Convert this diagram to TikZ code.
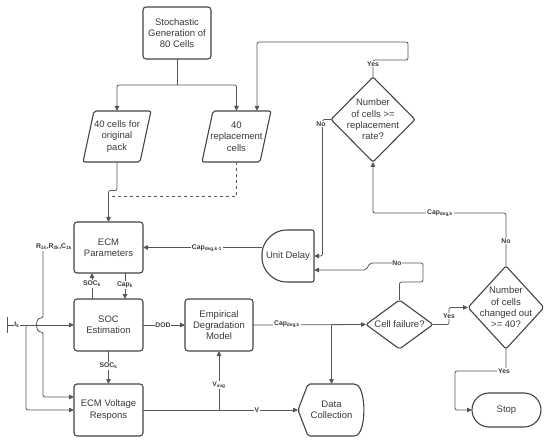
\documentclass[tikz,border=0pt]{standalone}
\usepackage{fontspec}
\setmainfont{Liberation Sans}
\usetikzlibrary{arrows.meta,calc,shapes.geometric}
\definecolor{lc}{HTML}{555555}
\definecolor{bc}{HTML}{444444}
\definecolor{tc}{HTML}{3A3A3A}
\begin{document}
\begin{tikzpicture}[x=1pt,y=-1pt,
 txt/.style={font=\fontsize{9.5}{11.3}\selectfont, align=center, inner sep=0, outer sep=0, text=tc},
 box/.style={txt, draw=bc, line width=1.1pt, rounded corners=3pt, minimum width=69, minimum height=52},
 shp/.style={draw=bc, line width=1.1pt, rounded corners=2pt},
 dia/.style={diamond, draw=bc, line width=1.1pt, inner sep=0, outer sep=0, rounded corners=2pt},
 lab/.style={font=\bfseries\fontsize{6.8}{7}\selectfont, fill=white, inner sep=0.8pt, text=tc},
 con/.style={draw=lc, line width=0.8pt, rounded corners=2pt},
 arr/.style={con, -{Triangle[length=5pt,width=4.5pt]}},
]
\useasboundingbox (0,0) rectangle (550,444);

% nodes
\node[box, minimum width=68] (stoch) at (177,33) {Stochastic\\Generation of\\80 Cells};
\node[txt, minimum width=68, minimum height=51] (orig) at (117,136.5) {40 cells for\\original\\pack};
\node[txt, minimum width=69, minimum height=51] (repl) at (236.5,136.5) {40\\replacement\\cells};
\node[box, minimum height=51] (ecmp) at (108.5,247.5) {ECM\\Parameters};
\node[box] (soc) at (108.5,325) {SOC\\Estimation};
\node[box] (ecmv) at (108.5,410) {ECM Voltage\\Respons};
\node[box, minimum width=68] (emp) at (219,325) {Empirical\\Degradation\\Model};
\node[txt, minimum width=52, minimum height=52] (ud) at (288,256) {Unit Delay};
\node[txt, minimum width=67, minimum height=52] (dc) at (331.5,410) {Data\\Collection};
\node[box, minimum height=34, rounded corners=17pt] (stop) at (506.5,410) {Stop};
\node[dia, minimum width=84, minimum height=85] (d1) at (373,119.5) {};
\node[txt] at (d1) {Number\\of cells >=\\replacement\\rate?};
\node[dia, minimum width=67, minimum height=49] (cf) at (399.5,324.5) {};
\node[txt] at (cf) {Cell failure?};
\node[dia, minimum width=76, minimum height=83] (d2) at (506,307.5) {};
\node[txt] at (d2) {Number\\of cells\\changed out\\>= 40?};

% custom shapes
\draw[shp] ($(orig.north west)+(11,0)$) -- (orig.north east) -- ($(orig.south east)+(-11,0)$) -- (orig.south west) -- cycle;
\draw[shp] ($(repl.north west)+(11,0)$) -- (repl.north east) -- ($(repl.south east)+(-11,0)$) -- (repl.south west) -- cycle;
\draw[shp] (ud.north east) -- (ud.north) .. controls +(-14.4,0) and +(0,-14.4) .. (ud.west)
  .. controls +(0,14.4) and +(-14.4,0) .. (ud.south) -- (ud.south east) -- cycle;
\draw[shp] (dc.west) -- ($(dc.north west)+(10,0)$) -- ($(dc.north east)+(-9,0)$)
  .. controls +(10,8) and +(10,-8) .. ($(dc.south east)+(-9,0)$) -- ($(dc.south west)+(10,0)$) -- cycle;

% connectors
\coordinate (split) at (177,85);
\draw[con] (stoch.south) -- (split);
\draw[arr] (split) -| (orig.north);
\draw[arr] (split) -| (repl.north);
\draw[arr] (d1.north) -- ++(0,-17) -- ++(35,0) -- ++(0,-18) -| ($(repl.north)+(20.5,0)$);
\draw[arr] (orig.south) -- ++(0,28.5) -| (ecmp.north);
\draw[con, dashed, rounded corners=0pt] (repl.south) |- ($(ecmp.north)+(0,-26)$);
\draw[arr] (d1.west) -- ++(-8.5,0) |- (ud.east);
\draw[arr] (ud.west |- ecmp.east) -- (ecmp.east);
\draw[arr] ($(soc.north)+(-16.5,0)$) -- ($(ecmp.south)+(-16.5,0)$);
\draw[arr] ($(ecmp.south)+(16.5,0)$) -- ($(soc.north)+(16.5,0)$);
\draw[arr] (soc.east) -- (emp.west);
\draw[arr] (soc.south) -- (ecmv.north);
\coordinate (ik) at (7,325);
\draw[con] (7,317) -- (7,333);
\draw[arr] (ik) -- (soc.west);
\draw[arr] (26,325) |- (ecmv.west);
\node[lab] (rlab) at (54,247) {R\textsubscript{1k},R\textsubscript{2k},C\textsubscript{1k}};
\draw[arr] (rlab.south -| 43,0) -- (43,318) .. controls (35,318) and (35,332) .. (43,332) |- ($(ecmv.west)+(0,-13)$);
\coordinate (vsplit) at (emp.south |- ecmv.east);
\draw[arr] (ecmv.east) -- (dc.west);
\draw[arr] (vsplit) -- (emp.south);
\coordinate (csplit) at (dc.north |- emp.east);
\draw[arr] (emp.east) -- (cf.west);
\draw[arr] (csplit) -- (dc.north);
\draw[arr] (cf.north) -- ++(0,-18) -- ++(23.5,0) -- ++(0,-19) -- (370,263) -- (366,270) -- ($(ud.east)+(0,14)$);
\draw[arr] (cf.east) -- ++(16,0) |- (d2.west);
\draw[arr] (d2.north) -- (506,213) -| (d1.south);
\draw[arr] (d2.south) -- ++(0,22) -- ++(-51,0) |- (stop.west);

% labels
\node[lab] at (373,64) {Yes};
\node[lab] at (321,124) {No};
\node[lab] at (207,248) {Cap\textsubscript{deg,k-1}};
\node[lab] at (92,284) {SOC\textsubscript{k}};
\node[lab] at (125,285) {Cap\textsubscript{k}};
\node[lab] at (163,325) {DOD};
\node[lab] at (108.5,366) {SOC\textsubscript{k}};
\node[lab] at (17,325) {I\textsubscript{k}};
\node[lab] at (257,410) {V};
\node[lab] at (219,385) {V\textsubscript{avg}};
\node[lab] at (287,324.5) {Cap\textsubscript{deg,k}};
\node[lab] at (397,263) {No};
\node[lab] at (449,316) {Yes};
\node[lab] at (506,241) {No};
\node[lab] at (440,213) {Cap\textsubscript{deg,k}};
\node[lab] at (504,371) {Yes};
\end{tikzpicture}
\end{document}
